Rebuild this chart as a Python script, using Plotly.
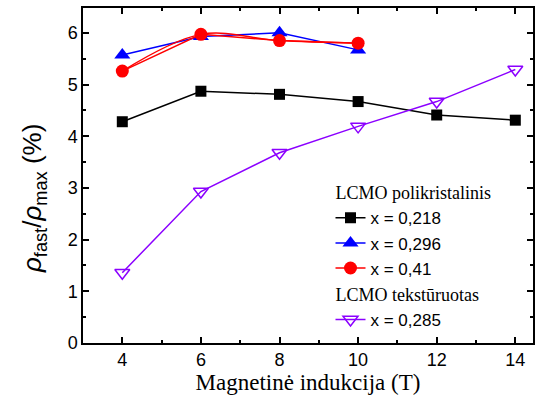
import plotly.graph_objects as go

B_218 = [4, 6, 8, 10, 12, 14]
v_218 = [4.28, 4.87, 4.81, 4.67, 4.41, 4.31]
B_296 = [4, 6, 8, 10]
v_296 = [5.57, 5.93, 6.00, 5.67]
B_41 = [4, 6, 8, 10]
v_41 = [5.26, 5.97, 5.85, 5.80]
B_285 = [4, 6, 8, 10, 12, 14]
v_285 = [1.36, 2.93, 3.68, 4.19, 4.67, 5.29]

fig = go.Figure()
fig.add_trace(go.Scatter(x=B_218, y=v_218, mode="lines+markers", name="x = 0,218",
                         line=dict(color="black", width=1.5),
                         marker=dict(symbol="square", size=11, color="black"),
                         legendgroup="poly", legendgrouptitle=dict(text="LCMO polikristalinis")))
fig.add_trace(go.Scatter(x=B_296, y=v_296, mode="lines+markers", name="x = 0,296",
                         line=dict(color="#0000FF", width=1.5),
                         marker=dict(symbol="triangle-up", size=14, color="#0000FF"),
                         legendgroup="poly"))
fig.add_trace(go.Scatter(x=B_41, y=v_41, mode="lines", showlegend=False,
                         line=dict(color="#FF0000", width=1.5, shape="spline", smoothing=1.0),
                         legendgroup="poly", hoverinfo="skip"))
fig.add_trace(go.Scatter(x=B_41, y=v_41, mode="lines+markers", name="x = 0,41",
                         line=dict(color="#FF0000", width=1.5),
                         marker=dict(symbol="circle", size=13, color="#FF0000"),
                         legendgroup="poly"))
fig.add_trace(go.Scatter(x=B_285, y=v_285, mode="lines+markers", name="x = 0,285",
                         line=dict(color="#8B00FF", width=1.5),
                         marker=dict(symbol="triangle-down-open", size=13, color="#8B00FF",
                                     line=dict(width=1.5)),
                         legendgroup="text", legendgrouptitle=dict(text="LCMO tekstūruotas")))

axis_common = dict(showline=True, linecolor="black", linewidth=1.5, mirror="ticks",
                   ticks="inside", ticklen=6, tickwidth=1.5, tickcolor="black",
                   showgrid=False, zeroline=False,
                   tickfont=dict(family="Liberation Sans, Arial", size=18, color="black"))

fig.update_layout(
    width=535, height=399,
    margin=dict(l=83, r=0, t=8, b=56),
    paper_bgcolor="white", plot_bgcolor="white",
    xaxis=dict(range=[3, 14.45], tickvals=[4, 6, 8, 10, 12, 14],
               minor=dict(tickvals=[5, 7, 9, 11, 13], ticklen=3, tickwidth=1.5,
                          tickcolor="black", ticks="inside"),
               title=dict(text="Magnetinė indukcija (T)",
                          font=dict(family="Liberation Serif, Times New Roman", size=23, color="black"),
                          standoff=1),
               **axis_common),
    yaxis=dict(range=[0, 6.48], tickvals=[0, 1, 2, 3, 4, 5, 6],
               minor=dict(tickvals=[0.5, 1.5, 2.5, 3.5, 4.5, 5.5], ticklen=3, tickwidth=1.5,
                          tickcolor="black", ticks="inside"),
               **axis_common),
    annotations=[dict(text="<i>ρ</i><sub>fast</sub>/<i>ρ</i><sub>max</sub> (%)",
                      textangle=-90, xref="paper", yref="paper",
                      x=-0.111, y=(343 - 199) / 335, xanchor="center", yanchor="middle",
                      showarrow=False,
                      font=dict(family="Liberation Sans, Arial", size=26, color="black"))],
    legend=dict(x=0.55, y=0.505, xanchor="left", yanchor="top",
                bgcolor="rgba(0,0,0,0)", tracegroupgap=0,
                font=dict(family="Liberation Sans, Arial", size=17, color="black"),
                grouptitlefont=dict(family="Liberation Serif, Times New Roman", size=18, color="black"),
                itemwidth=30),
    showlegend=True,
)

fig.write_html("out.html")
